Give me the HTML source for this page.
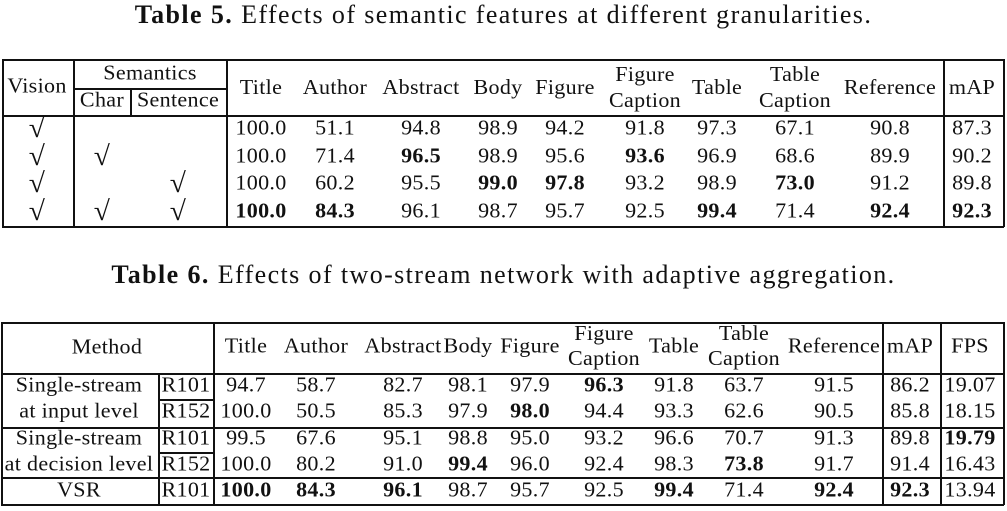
<!DOCTYPE html>
<html><head><meta charset="utf-8">
<style>
html,body{margin:0;padding:0;background:#fff;}
#root{position:relative;width:1007px;height:511px;overflow:hidden;font-family:"Liberation Serif","DejaVu Serif",serif;color:#111;}
.t{position:absolute;white-space:nowrap;transform:translate(-50%,-50%) scaleX(1.05);font-size:21px;line-height:1;letter-spacing:0.3px;}
.ck{font-size:28px;}
.b{font-weight:bold;}
.h{position:absolute;background:#111;height:1.5px;}
.v{position:absolute;background:#111;width:1.5px;}
.cap{position:absolute;left:0;width:1007px;text-align:center;font-size:26px;letter-spacing:1.4px;}
</style></head><body>
<div id="root">
<div class="cap" style="top:0px"><b>Table 5.</b> Effects of semantic features at different granularities.</div>
<div class="cap" style="top:260px"><b>Table 6.</b> Effects of two-stream network with adaptive aggregation.</div>
</div>
<script>
const root=document.getElementById('root');
function line(cls,x,y,len){const d=document.createElement('div');d.className=cls;
if(cls==='h'){d.style.left=x+'px';d.style.top=y+'px';d.style.width=len+'px';}else{d.style.left=x+'px';d.style.top=y+'px';d.style.height=len+'px';}


root.appendChild(d);}
function txt(s,x,y,bold,name,extra){const d=document.createElement('div');d.className='t'+(bold?' b':'')+(extra?' '+extra:'');d.style.left=x+'px';d.style.top=y+'px';d.innerHTML=s;


root.appendChild(d);}
// Table 5
const t5cols=[261,335,421,498,565,645,717,795,890,972];
const t5rows=[128,156,183,211];
const t5vals=[["100.0","51.1","94.8","98.9","94.2","91.8","97.3","67.1","90.8","87.3"],
["100.0","71.4","*96.5","98.9","95.6","*93.6","96.9","68.6","89.9","90.2"],
["100.0","60.2","95.5","*99.0","*97.8","93.2","98.9","*73.0","91.2","89.8"],
["*100.0","*84.3","96.1","98.7","95.7","92.5","*99.4","71.4","*92.4","*92.3"]];
const t5checks=[[1,0,0],[1,1,0],[1,0,1],[1,1,1]];
const t5heads=["Title","Author","Abstract","Body","Figure","Figure<br>Caption","Table","Table<br>Caption","Reference","mAP"];
line('h',2,59,1002);line('h',73,88,155);line('h',2,115,1002);line('h',2,226,1002);
[2,73,226,943,1003].forEach(x=>line('v',x,59,168));
[130].forEach(x=>line('v',x,88,28));
txt("Vision",37,86,0,'vision-header');txt("Semantics",150,73,0,'semantics-header');
txt("Char",102,100,0,'char-header');txt("Sentence",178,100,0,'sentence-header');
t5heads.forEach((h,i)=>txt('<div style="text-align:center;line-height:26px">'+h+'</div>',t5cols[i],87,0,'column-header'));
const ckx=[37,102,178];
t5checks.forEach((r,ri)=>r.forEach((c,ci)=>{if(c)txt("√",ckx[ci],t5rows[ri]+1,0,'check-mark','ck');}));
t5vals.forEach((r,ri)=>r.forEach((v,ci)=>{const b=v[0]==='*';txt(b?v.slice(1):v,t5cols[ci],t5rows[ri],b,'table5-cell');}));
// Table 6
const t6cols=[246,316,403,468,530,604,674,744,834,910,970];
const t6rows=[385,411,438,464,490];
const t6bb=["R101","R152","R101","R152","R101"];
const t6vals=[["94.7","58.7","82.7","98.1","97.9","*96.3","91.8","63.7","91.5","86.2","19.07"],
["100.0","50.5","85.3","97.9","*98.0","94.4","93.3","62.6","90.5","85.8","18.15"],
["99.5","67.6","95.1","98.8","95.0","93.2","96.6","70.7","91.3","89.8","*19.79"],
["100.0","80.2","91.0","*99.4","96.0","92.4","98.3","*73.8","91.7","91.4","16.43"],
["*100.0","*84.3","*96.1","98.7","95.7","92.5","*99.4","71.4","*92.4","*92.3","13.94"]];
const t6heads=["Title","Author","Abstract","Body","Figure","Figure<br>Caption","Table","Table<br>Caption","Reference","mAP","FPS"];
line('h',1,322,1003);line('h',1,373,1003);line('h',1,427,1003);line('h',1,477,1003);line('h',1,504,1003);
line('h',158,399,57);line('h',158,452,57);
[1,158,213,882,940,1003].forEach(x=>line('v',x,(x===158?373:322),(x===158?132:183)));
txt("Method",107,347,0,'method-header');
t6heads.forEach((h,i)=>txt('<div style="text-align:center;line-height:25px">'+h+'</div>',t6cols[i],346,0,'column-header'));
txt("Single-stream",79,385,0,'method-label');txt("at input level",79,411,0,'method-label');
txt("Single-stream",79,438,0,'method-label');txt("at decision level",79,464,0,'method-label');
txt("VSR",79,490,0,'method-label');
t6bb.forEach((b,i)=>txt(b,186,t6rows[i],0,'backbone-label'));
t6vals.forEach((r,ri)=>r.forEach((v,ci)=>{const b=v[0]==='*';txt(b?v.slice(1):v,t6cols[ci],t6rows[ri],b,'table6-cell');}));
</script>
</body></html>
